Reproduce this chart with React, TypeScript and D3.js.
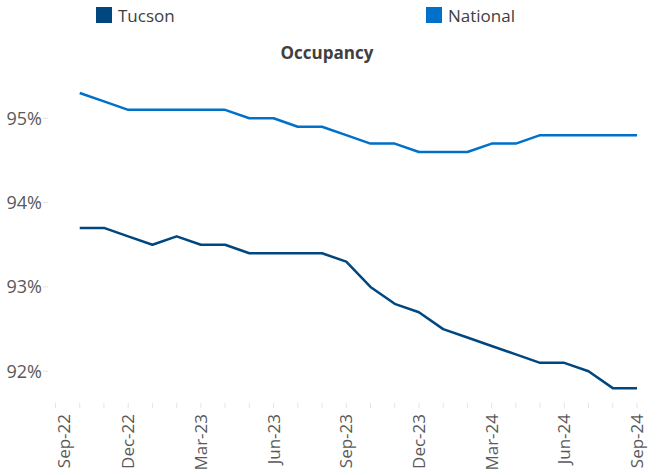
import { useEffect, useRef } from "react";
import * as d3 from "d3";

const width = 660;
const height = 475;

// months on the x axis (Sep-22 .. Sep-24)
const months = [
  "Sep-22", "Oct-22", "Nov-22", "Dec-22", "Jan-23", "Feb-23", "Mar-23",
  "Apr-23", "May-23", "Jun-23", "Jul-23", "Aug-23", "Sep-23", "Oct-23",
  "Nov-23", "Dec-23", "Jan-24", "Feb-24", "Mar-24", "Apr-24", "May-24",
  "Jun-24", "Jul-24", "Aug-24", "Sep-24",
];
const tickLabels = ["Sep-22", "Dec-22", "Mar-23", "Jun-23", "Sep-23", "Dec-23", "Mar-24", "Jun-24", "Sep-24"];

// series start at Oct-22
const seriesMonths = months.slice(1);
const tucson = [
  93.7, 93.7, 93.6, 93.5, 93.6, 93.5, 93.5, 93.4, 93.4, 93.4, 93.4, 93.3,
  93.0, 92.8, 92.7, 92.5, 92.4, 92.3, 92.2, 92.1, 92.1, 92.0, 91.8, 91.8,
];
const national = [
  95.3, 95.2, 95.1, 95.1, 95.1, 95.1, 95.1, 95.0, 95.0, 94.9, 94.9, 94.8,
  94.7, 94.7, 94.6, 94.6, 94.6, 94.7, 94.7, 94.8, 94.8, 94.8, 94.8, 94.8,
];
const yTicks = [92, 93, 94, 95];

const seriesList = [
  { name: "Tucson", values: tucson, color: "#00467f" },
  { name: "National", values: national, color: "#0070c8" },
];

const font = "'Open Sans', sans-serif";

const App = () => {
  const ref = useRef<SVGSVGElement>(null);

  const x = d3.scalePoint<string>().domain(months).range([55.5, 637]);
  const y = d3.scaleLinear().domain([91.6, 95]).range([405, 118.3]);

  useEffect(() => {
    const svg = d3.select(ref.current);
    svg.selectAll("*").remove();

    // legend
    const legendX = [96, 426];
    seriesList.forEach((s, i) => {
      const g = svg.append("g").attr("transform", `translate(${legendX[i]},7)`);
      g.append("rect").attr("width", 16).attr("height", 16).attr("fill", s.color);
      g.append("text")
        .attr("x", 22)
        .attr("y", 14.5)
        .attr("font-family", font)
        .attr("font-size", 17)
        .attr("fill", "#404040")
        .text(s.name);
    });

    // title
    svg.append("text")
      .attr("x", 327)
      .attr("y", 59)
      .attr("text-anchor", "middle")
      .attr("font-family", font)
      .attr("font-size", 17)
      .attr("font-weight", "bold")
      .attr("fill", "#404040")
      .text("Occupancy");

    // y axis labels + small ticks
    const yg = svg.append("g");
    yTicks.forEach((t) => {
      yg.append("line")
        .attr("x1", 43).attr("x2", 48)
        .attr("y1", y(t)).attr("y2", y(t))
        .attr("stroke", "#e4e4e4");
      yg.append("text")
        .attr("x", 42)
        .attr("y", y(t))
        .attr("dy", "0.36em")
        .attr("text-anchor", "end")
        .attr("font-family", font)
        .attr("font-size", 18)
        .attr("fill", "#595959")
        .text(`${t}%`);
    });

    // x axis ticks + rotated labels
    const xg = svg.append("g");
    months.forEach((m) => {
      xg.append("line")
        .attr("x1", x(m)!).attr("x2", x(m)!)
        .attr("y1", 403).attr("y2", 408)
        .attr("stroke", "#e4e4e4");
    });
    tickLabels.forEach((m) => {
      const px = Math.max(x(m)!, 64);
      xg.append("text")
        .attr("transform", `translate(${px},414) rotate(-90)`)
        .attr("dy", "0.36em")
        .attr("text-anchor", "end")
        .attr("font-family", font)
        .attr("font-size", 17)
        .attr("fill", "#595959")
        .text(m);
    });

    // lines
    const line = d3
      .line<number>()
      .x((_, i) => x(seriesMonths[i])!)
      .y((d) => y(d));

    seriesList.forEach((s) => {
      svg.append("path")
        .datum(s.values)
        .attr("d", line)
        .attr("fill", "none")
        .attr("stroke", s.color)
        .attr("stroke-width", 2.5)
        .attr("stroke-linejoin", "round");
    });
  }, []);

  return (
    <svg
      ref={ref}
      width={width}
      height={height}
      viewBox={`0 0 ${width} ${height}`}
      style={{ position: "absolute", left: 0, top: 0, background: "#fff" }}
    />
  );
};

export default App;
